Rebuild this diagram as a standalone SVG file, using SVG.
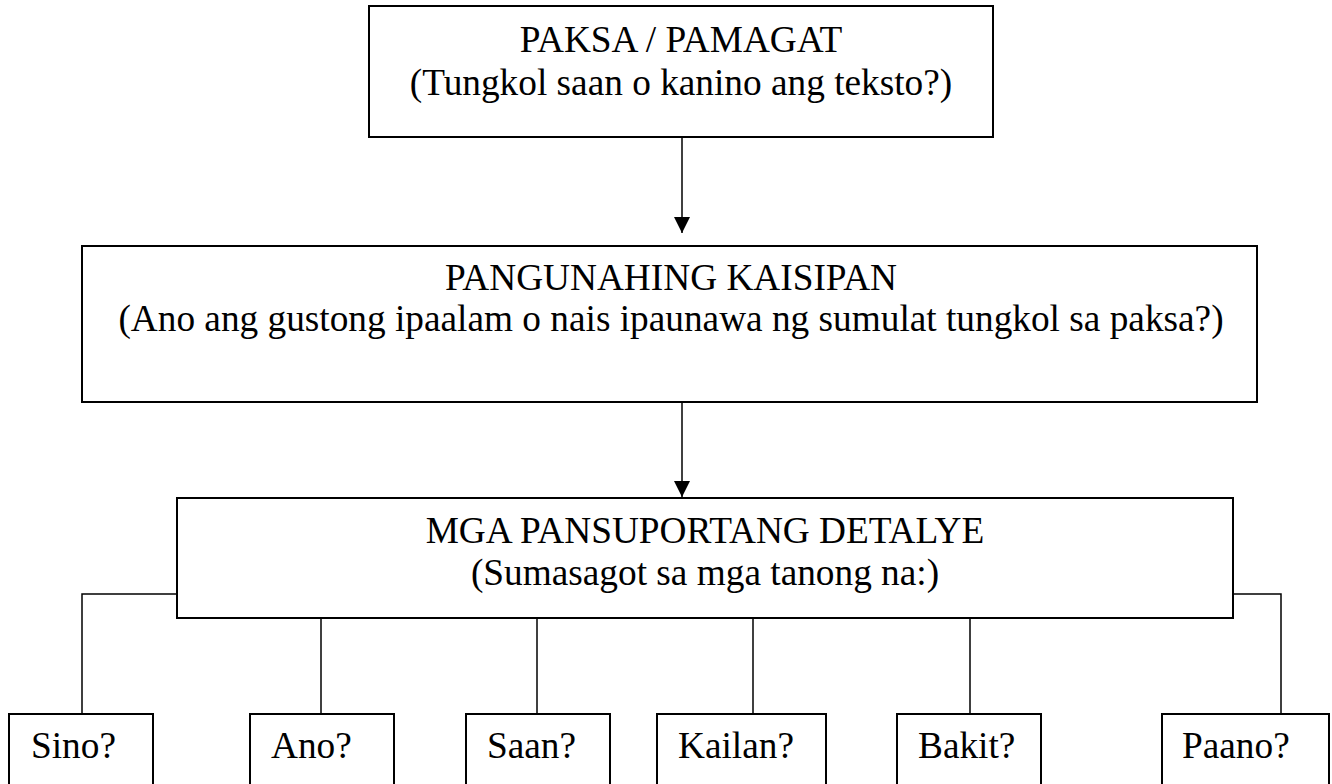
<svg xmlns="http://www.w3.org/2000/svg" width="1332" height="784" viewBox="0 0 1332 784">
<style>
.box{fill:#fff;stroke:#000;stroke-width:2}
.t{font-family:"Liberation Serif","Times New Roman",serif;font-size:37.3px;fill:#000}
.c{text-anchor:middle}
.con{fill:none;stroke:#000;stroke-width:1.5}
</style>
<defs>
<marker id="ah" markerWidth="16" markerHeight="16" viewBox="0 0 16 16" refX="16" refY="8" orient="auto" markerUnits="userSpaceOnUse">
<path d="M0,0 L16,8 L0,16 Z" fill="#000"/>
</marker>
</defs>
<rect width="1332" height="784" fill="#fff"/>
<g id="connectors">
<line class="con" x1="682" y1="137" x2="682" y2="233" marker-end="url(#ah)"/>
<line class="con" x1="682" y1="402" x2="682" y2="497" marker-end="url(#ah)"/>
<polyline class="con" points="177,594 82,594 82,714"/>
<line class="con" x1="321" y1="618" x2="321" y2="714"/>
<line class="con" x1="537" y1="618" x2="537" y2="714"/>
<line class="con" x1="753" y1="618" x2="753" y2="714"/>
<line class="con" x1="970" y1="618" x2="970" y2="714"/>
<polyline class="con" points="1233,594 1281,594 1281,714"/>
</g>
<g id="paksa">
<rect class="box" x="369" y="6" width="624" height="131"/>
<text class="t c" x="681" y="52">PAKSA / PAMAGAT</text>
<text class="t c" x="681" y="95">(Tungkol saan o kanino ang teksto?)</text>
</g>
<g id="pangunahing">
<rect class="box" x="82" y="246" width="1175" height="156"/>
<text class="t c" x="671" y="290">PANGUNAHING KAISIPAN</text>
<text class="t c" x="671" y="331">(Ano ang gustong ipaalam o nais ipaunawa ng sumulat tungkol sa paksa?)</text>
</g>
<g id="detalye">
<rect class="box" x="177" y="498" width="1056" height="120"/>
<text class="t c" x="705" y="543">MGA PANSUPORTANG DETALYE</text>
<text class="t c" x="705" y="585">(Sumasagot sa mga tanong na:)</text>
</g>
<g id="sino">
<rect class="box" x="9" y="714" width="144" height="80"/>
<text class="t" x="31" y="758">Sino?</text>
</g>
<g id="ano">
<rect class="box" x="250" y="714" width="144" height="80"/>
<text class="t" x="271" y="758">Ano?</text>
</g>
<g id="saan">
<rect class="box" x="466" y="714" width="144" height="80"/>
<text class="t" x="487" y="758">Saan?</text>
</g>
<g id="kailan">
<rect class="box" x="657" y="714" width="169" height="80"/>
<text class="t" x="678" y="758">Kailan?</text>
</g>
<g id="bakit">
<rect class="box" x="897" y="714" width="144" height="80"/>
<text class="t" x="918" y="758">Bakit?</text>
</g>
<g id="paano">
<rect class="box" x="1162" y="714" width="167" height="80"/>
<text class="t" x="1182" y="758">Paano?</text>
</g>
</svg>
